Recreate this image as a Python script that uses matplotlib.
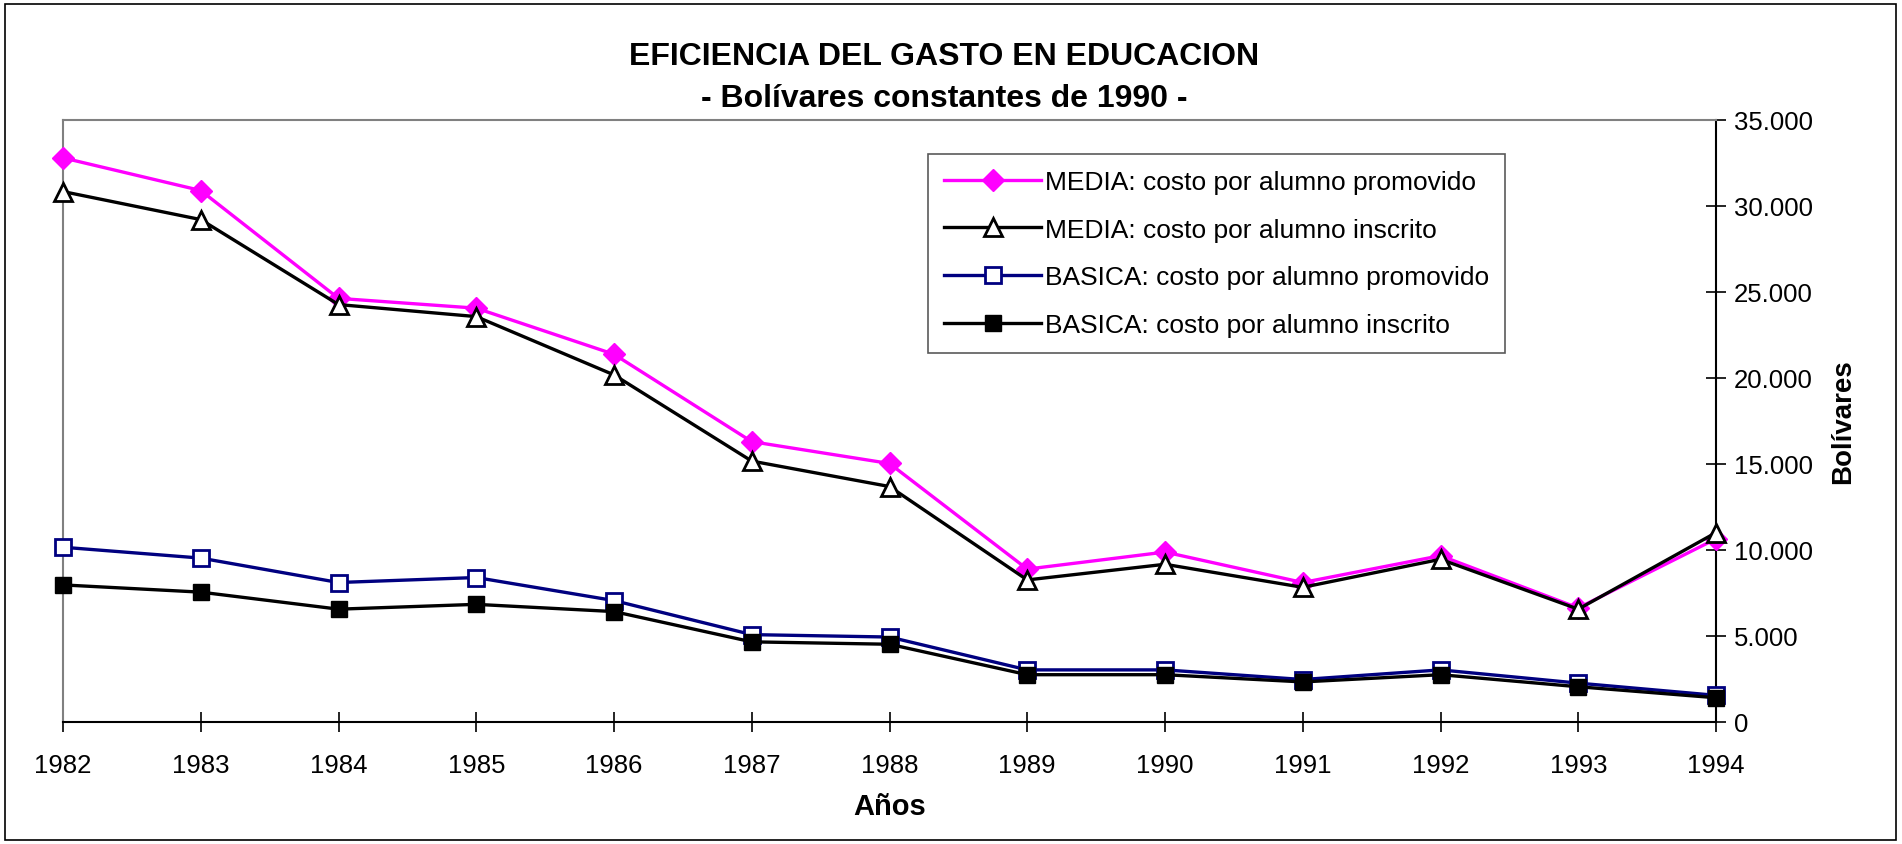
import matplotlib
matplotlib.use("Agg")
import matplotlib.pyplot as plt
from matplotlib.patches import Rectangle
from matplotlib.ticker import FuncFormatter

plt.rcParams['font.family'] = ['Liberation Sans', 'DejaVu Sans']

years = [1982, 1983, 1984, 1985, 1986, 1987, 1988, 1989, 1990, 1991, 1992, 1993, 1994]
media_promovido = [32800, 30900, 24630, 24060, 21380, 16300, 15030, 8890, 9880, 8110, 9670, 6630, 10650]
media_inscrito = [30840, 29210, 24270, 23570, 20180, 15170, 13690, 8260, 9170, 7830, 9460, 6560, 11010]
basica_promovido = [10160, 9530, 8110, 8400, 7060, 5080, 4940, 3030, 3030, 2470, 3030, 2260, 1550]
basica_inscrito = [7970, 7550, 6560, 6840, 6420, 4660, 4520, 2750, 2750, 2330, 2750, 2050, 1410]
yticks = [0, 5000, 10000, 15000, 20000, 25000, 30000, 35000]

W, H = 1902, 845
fig = plt.figure(figsize=(W / 100, H / 100), dpi=100)
fig.patches.append(Rectangle((5 / W, 4 / H), (W - 11) / W, (H - 9) / H, transform=fig.transFigure,
                             fill=False, edgecolor='black', linewidth=1.2))

L, R, T, B = 63, 1716, 121, 723
ax = fig.add_axes([L / W, (H - B) / H, (R - L) / W, (B - T) / H])

ax.plot(years, media_promovido, color='#FF00FF', lw=2.4, marker='D', ms=11,
        mfc='#FF00FF', mec='#FF00FF', label='MEDIA: costo por alumno promovido', zorder=3, clip_on=False)
ax.plot(years, media_inscrito, color='black', lw=2.4, marker='^', ms=13,
        mfc='white', mec='black', mew=2, label='MEDIA: costo por alumno inscrito', zorder=4, clip_on=False)
ax.plot(years, basica_promovido, color='#000080', lw=2.4, marker='s', ms=12,
        mfc='white', mec='#000080', mew=2, label='BASICA: costo por alumno promovido', zorder=3, clip_on=False)
ax.plot(years, basica_inscrito, color='black', lw=2.4, marker='s', ms=12,
        mfc='black', mec='black', label='BASICA: costo por alumno inscrito', zorder=4, clip_on=False)

ax.set_xlim(1982, 1994)
ax.set_ylim(0, 35000)
ax.set_xticks(years)
ax.set_yticks(yticks)
ax.yaxis.tick_right()
ax.yaxis.set_label_position('right')
ax.yaxis.set_major_formatter(FuncFormatter(lambda v, p: f"{int(v):,}".replace(',', '.')))
ax.tick_params(axis='both', direction='inout', length=14, width=1.2, labelsize=18.5, colors='black')
ax.tick_params(axis='x', pad=15)
ax.tick_params(axis='y', pad=6)

for s in ['left', 'top']:
    ax.spines[s].set_color('#808080')
    ax.spines[s].set_linewidth(1.5)
for s in ['right', 'bottom']:
    ax.spines[s].set_color('black')
    ax.spines[s].set_linewidth(1.5)

ax.set_xlabel('Años', fontsize=21, fontweight='bold', labelpad=11)
ax.set_ylabel('Bolívares', fontsize=20, fontweight='bold', labelpad=12)

fig.text(944 / W, 1 - 57 / H, 'EFICIENCIA DEL GASTO EN EDUCACION', ha='center', va='center',
         fontsize=23, fontweight='bold')
fig.text(944 / W, 1 - 99 / H, '- Bolívares constantes de 1990 -', ha='center', va='center',
         fontsize=23, fontweight='bold')

leg = ax.legend(loc='upper left', bbox_to_anchor=((928 - L) / (R - L), 1 - (155 - T) / (B - T)),
                fontsize=19, frameon=True, fancybox=False, edgecolor='#303030',
                borderpad=0.6, labelspacing=0.9, handlelength=3.7, handletextpad=0.15, borderaxespad=0)
leg.get_frame().set_linewidth(1.2)

fig.savefig('out.png', dpi=100)
